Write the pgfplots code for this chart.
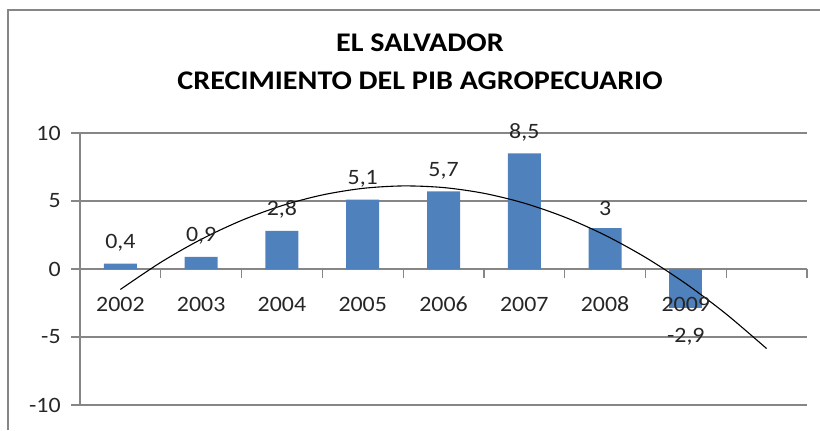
\documentclass[border=0pt]{standalone}
\usepackage{fontspec}
\setmainfont{Carlito}
\usepackage{pgfplots}
\pgfplotsset{compat=1.18}
\definecolor{barblue}{HTML}{4F81BD}
\definecolor{gridgray}{HTML}{868686}
\definecolor{txt}{HTML}{262626}
\begin{document}
\begin{tikzpicture}[x=1bp,y=1bp]
\path[use as bounding box] (0,0) rectangle (820,430);
\draw[gridgray, line width=2bp] (8,0) -- (8,420) -- (820,420);
\node[font=\fontsize{27}{30}\selectfont\bfseries, xscale=1.12] at (420,387) {EL SALVADOR};
\node[font=\fontsize{27}{30}\selectfont\bfseries, xscale=1.12] at (420,349) {CRECIMIENTO DEL PIB AGROPECUARIO};
\begin{axis}[
  at={(80bp,25bp)}, anchor=south west,
  width=727bp, height=272bp, scale only axis,
  xmin=0.5, xmax=9.5, ymin=-10, ymax=10,
  ytick={-10,-5,0,5,10},
  axis x line*=middle, axis y line*=left,
  ymajorgrids, grid style={gridgray, line width=1.2bp},
  axis line style={gridgray, line width=1.2bp},
  xtick={0.5,1.5,2.5,3.5,4.5,5.5,6.5,7.5,8.5,9.5}, xticklabels={},
  tick align=outside, major tick length=9bp,
  tick style={gridgray, line width=1.2bp},
  extra x ticks={1,2,3,4,5,6,7},
  extra x tick labels={2002,2003,2004,2005,2006,2007,2008},
  extra x tick style={major tick length=0pt, grid=none, tick label style={yshift=-24bp, text height=15bp, text depth=4bp}},
  /pgf/number format/assume math mode=true,
  /pgf/number format/use comma,
  tick label style={font=\fontsize{22}{26}\selectfont, text=txt, xscale=1.09},
  yticklabel style={xshift=-6bp},
  clip=false,
]
\addplot[ybar, bar width=33bp, bar shift=0pt, fill=barblue, draw=none,
  nodes near coords, nodes near coords align=vertical,
  every node near coord/.append style={font=\fontsize{22}{26}\selectfont, text=txt, inner sep=12bp, xscale=1.09}]
  coordinates {(1,0.4) (2,0.9) (3,2.8) (4,5.1) (5,5.7) (6,8.5) (7,3)};
\addplot[ybar, bar width=33bp, bar shift=0pt, fill=barblue, draw=none,
  nodes near coords, nodes near coords align=vertical,
  every node near coord/.append style={font=\fontsize{22}{26}\selectfont, text=txt, inner sep=20bp, xscale=1.09}]
  coordinates {(8,-2.9)};
\addplot[draw=none, mark=none, forget plot,
  nodes near coords={2009},
  every node near coord/.append style={anchor=north, yshift=-24bp, text height=15bp, text depth=4bp, inner sep=0.333em, font=\fontsize{22}{26}\selectfont, text=txt, xscale=1.09}]
  coordinates {(8,0)};
\addplot[black, line width=1.1bp, smooth, no marks] coordinates {
(1,-1.504) (1.5,0.490) (2,2.182) (2.5,3.571) (3,4.659) (3.5,5.445) (4,5.928)
(4.5,6.109) (5,5.989) (5.5,5.566) (6,4.841) (6.5,3.814) (7,2.485) (7.5,0.854)
(8,-1.079) (8.5,-3.315) (9,-5.852)};
\end{axis}
\end{tikzpicture}
\end{document}
